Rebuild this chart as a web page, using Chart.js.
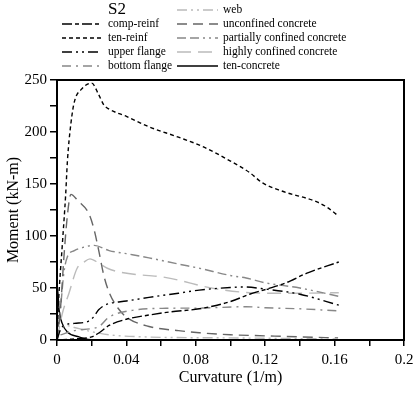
<!DOCTYPE html>
<html><head><meta charset="utf-8">
<script src="https://cdn.jsdelivr.net/npm/chart.js@4"></script>
<style>html,body{margin:0;padding:0;background:#fff}#wrap{width:414px;height:399px}</style>
</head><body><div id="wrap"><canvas id="c" width="414" height="399"></canvas></div>
<script>
// [curvature (1/m), moment (kN-m)]
const tenReinf = [[0,0],[0.001,40],[0.003,90],[0.005,140],[0.006,172],[0.008,208],[0.010,229],[0.014,241],[0.02,247],[0.024,236],[0.027,226],[0.03,222],[0.04,215],[0.053,205],[0.07,195],[0.084,186],[0.1,172],[0.111,161],[0.1185,151],[0.13,143],[0.1495,133],[0.1553,128],[0.1624,119]];
const unconfined = [[0,0],[0.002,30],[0.004,80],[0.006,120],[0.008,140],[0.012,134],[0.0185,121],[0.0214,106],[0.0243,84],[0.027,62],[0.030,46],[0.035,31],[0.04,22],[0.053,13],[0.07,9],[0.082,7],[0.1,5],[0.12,4],[0.14,3],[0.162,2]];
const compReinf = [[0,0],[0.01,1],[0.02,3],[0.0243,7],[0.030,14],[0.04,20],[0.053,24],[0.065,27],[0.082,30],[0.1,37],[0.111,44],[0.121,49],[0.132,55],[0.1437,64],[0.1624,75]];
const upperFlange = [[0,0],[0.002,10],[0.004,14],[0.01,16],[0.018,18],[0.021,22],[0.024,29],[0.027,33],[0.03,35],[0.04,37.5],[0.053,41],[0.07,45],[0.082,48],[0.1,50.5],[0.107,51],[0.12,49],[0.14,44],[0.1624,33.5]];
const bottomFlange = [[0.002,5],[0.01,9],[0.02,11],[0.0243,13],[0.030,22],[0.0434,28.5],[0.0628,30.5],[0.082,30.7],[0.109,32],[0.12,31],[0.14,30],[0.1624,28]];
const web = [[0,0],[0.002,10],[0.005,14],[0.01,12],[0.02,8],[0.03,5],[0.05,3],[0.1,2],[0.162,1]];
const partiallyConfined = [[0,0],[0.002,30],[0.004,65],[0.006,80],[0.01,86],[0.015,89],[0.0214,91],[0.03,86],[0.04,83],[0.053,79],[0.07,73],[0.082,69],[0.1,62],[0.109,59.6],[0.12,55],[0.14,50],[0.1624,42]];
const highlyConfined = [[0,0],[0.003,25],[0.0069,45],[0.0116,69],[0.0156,75],[0.019,78],[0.024,74],[0.029,69],[0.037,65],[0.063,60],[0.092,49],[0.12,45],[0.14,45],[0.1624,45.5]];
const tenConcrete = [[0,0],[0.0002,51],[0.0012,29],[0.003,16],[0.0058,8],[0.0127,3],[0.018,0.5],[0.03,0]];

const xTicksStep = 0.02, xLabelStep = 0.04;
const yTicksStep = 25, yLabelStep = 50;

const serif = "'Liberation Serif','DejaVu Serif',serif";
const pts = a => a.map(p => ({x:p[0], y:p[1]}));
function ds(label, data, color, dash, width){
  return {label, data: pts(data), borderColor: color, borderDash: dash, borderWidth: width||1.3,
    pointRadius: 0, fill: false, tension: 0.35, cubicInterpolationMode: 'monotone'};
}
const datasets = [
  ds('comp-reinf', compReinf, '#000', [10,3,4,3], 1.4),
  ds('ten-reinf', tenReinf, '#000', [4,3], 1.4),
  ds('upper flange', upperFlange, '#000', [10,4,2,4,2,4], 1.4),
  ds('bottom flange', bottomFlange, '#888', [9,5,2,5], 1.4),
  ds('web', web, '#bbb', [10,4,2,4,2,4], 1.4),
  ds('unconfined concrete', unconfined, '#666', [10,6], 1.4),
  ds('partially confined concrete', partiallyConfined, '#888', [9,4,9,4,2,4,2,4], 1.4),
  ds('highly confined concrete', highlyConfined, '#bbb', [14,7], 1.4),
  ds('ten-concrete', tenConcrete, '#000', [], 1.4)
];

const legendPlugin = {
  id: 'customLegend',
  afterDraw(chart){
    const ctx = chart.ctx;
    ctx.save();
    ctx.fillStyle = '#000';
    ctx.font = "17px " + serif;
    ctx.textBaseline = 'middle';
    ctx.textAlign = 'left';
    ctx.fillText('S2', 108, 10);
    ctx.font = "11.5px " + serif;
    const left = [0,1,2,3], right = [4,5,6,7,8];
    const rowsL = [24,38,52,66], rowsR = [10,24,38,52,66];
    const drawItem = (d, x0, x1, tx, y) => {
      ctx.beginPath();
      ctx.setLineDash(d.borderDash);
      ctx.strokeStyle = d.borderColor;
      ctx.lineWidth = 1.5;
      ctx.moveTo(x0, y); ctx.lineTo(x1, y); ctx.stroke();
      ctx.setLineDash([]);
      ctx.fillStyle = '#000';
      ctx.fillText(d.label, tx, y);
    };
    left.forEach((i,k) => drawItem(datasets[i], 62, 102, 108, rowsL[k]));
    right.forEach((i,k) => drawItem(datasets[i], 177, 218, 223, rowsR[k]));
    // frame
    const a = chart.chartArea;
    ctx.strokeStyle = '#000';
    ctx.lineWidth = 2;
    ctx.strokeRect(a.left, a.top, a.right - a.left, a.bottom - a.top);
    ctx.restore();
  }
};

const near = (v, s) => Math.abs(v/s - Math.round(v/s)) < 1e-6;

new Chart(document.getElementById('c'), {
  type: 'line',
  data: { datasets },
  options: {
    responsive: false, animation: false,
    layout: { padding: { top: 80, right: 10, left: 4, bottom: 12 } },
    plugins: { legend: { display: false }, tooltip: { enabled: false } },
    scales: {
      x: {
        type: 'linear', min: 0, max: 0.2,
        afterFit: s => { s.height = 47; s.paddingRight = 0; s.paddingLeft = 0; },
        ticks: { stepSize: xTicksStep, autoSkip: false, maxRotation: 0, color: '#000', padding: 5,
          font: { family: serif, size: 15 },
          callback: v => near(v, xLabelStep) ? (v === 0 ? '0' : (near(v, 0.1) ? String(Math.round(v*10)/10) : v.toFixed(2))) : '' },
        grid: { drawOnChartArea: false, tickLength: 6, color: '#000', lineWidth: 1.5 },
        border: { color: '#000', width: 2 },
        title: { display: true, text: 'Curvature (1/m)', color: '#000', font: { family: serif, size: 16 }, padding: { top: 0, bottom: 0 } }
      },
      y: {
        min: 0, max: 250,
        afterFit: s => { s.width = 53; s.paddingTop = 0; s.paddingBottom = 0; },
        ticks: { stepSize: yTicksStep, autoSkip: false, color: '#000', padding: 3,
          font: { family: serif, size: 15 },
          callback: v => near(v, yLabelStep) ? String(v) : '' },
        grid: { drawOnChartArea: false, tickLength: 7, color: '#000', lineWidth: 1.5 },
        border: { color: '#000', width: 2 },
        title: { display: true, text: 'Moment (kN-m)', color: '#000', font: { family: serif, size: 16 }, padding: { top: 0, bottom: 0 } }
      }
    }
  },
  plugins: [legendPlugin]
});
</script></body></html>
